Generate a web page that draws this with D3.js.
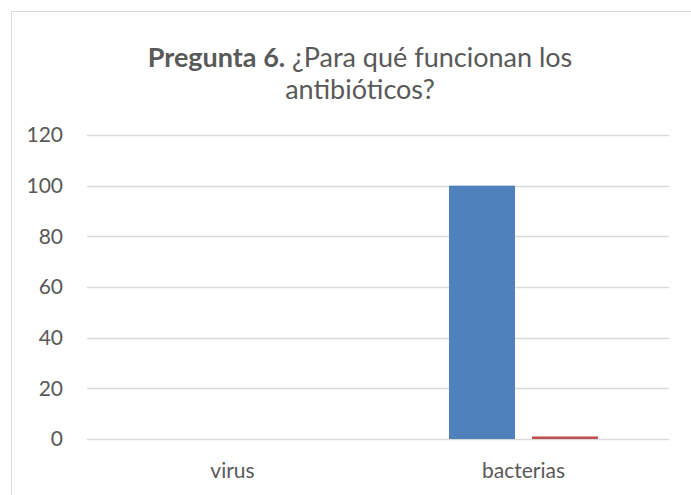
<!DOCTYPE html>
<meta charset="utf-8">
<style>
  html, body { margin: 0; padding: 0; background: #fff; }
  svg text { font-family: Lato, "Open Sans", sans-serif; fill: #595959; }
</style>
<body>
<script src="https://cdn.jsdelivr.net/npm/d3@7"></script>
<script>
  // chart data
  var categories = ["virus", "bacterias"];
  var serie1 = [0, 100];
  var serie2 = [0, 1];
  var yTicks = [0, 20, 40, 60, 80, 100, 120];

  var W = 691, H = 495;
  var margin = { top: 135, right: 22, bottom: 56, left: 87 };
  var width = W - margin.left - margin.right,
      height = H - margin.top - margin.bottom;

  var svg = d3.select("body").append("svg")
    .attr("width", W)
    .attr("height", H);

  // chart border (runs off the right / bottom edge)
  svg.append("rect")
    .attr("x", 11.5).attr("y", 11.5)
    .attr("width", W).attr("height", H)
    .attr("fill", "none")
    .attr("stroke", "#d9d9d9");

  // title
  var title = svg.append("text")
    .attr("text-anchor", "middle")
    .style("font-size", "27px");
  var t1 = title.append("tspan").attr("x", 360).attr("y", 67);
  t1.append("tspan").style("font-weight", "bold").text("Pregunta 6.");
  t1.append("tspan").text(" ¿Para qué funcionan los");
  title.append("tspan").attr("x", 360).attr("y", 99).text("antibióticos?");

  var g = svg.append("g")
    .attr("transform", "translate(" + margin.left + "," + margin.top + ")");

  var x = d3.scaleBand().domain(categories).range([0, width]);
  var y = d3.scaleLinear().domain([0, 120]).range([height, 0]);

  // gridlines
  g.selectAll(".grid")
    .data(yTicks)
    .enter().append("line")
    .attr("x1", 0).attr("x2", width)
    .attr("y1", function (d) { return Math.round(y(d)) + 0.5; })
    .attr("y2", function (d) { return Math.round(y(d)) + 0.5; })
    .attr("stroke", "#d9d9d9")
    .attr("stroke-width", 1.3);

  // y axis labels
  var yAxis = g.append("g")
    .call(d3.axisLeft(y).tickValues(yTicks).tickSize(0).tickPadding(24));
  yAxis.select(".domain").remove();
  yAxis.selectAll("text").style("font-size", "21px").attr("fill", "#595959");

  // x axis labels
  var xAxis = g.append("g")
    .attr("transform", "translate(0," + height + ")")
    .call(d3.axisBottom(x).tickSize(0).tickPadding(24));
  xAxis.select(".domain").remove();
  xAxis.selectAll("text").style("font-size", "21px").attr("fill", "#595959");

  // bars
  var xs = d3.scaleBand().domain([0, 1]).range([0, x.bandwidth()])
    .paddingInner(0.205).paddingOuter(0.855);
  var series = [serie1, serie2];
  var colors = ["#4f81bd", "#c0504d"];

  series.forEach(function (vals, si) {
    g.selectAll(".bar" + si)
      .data(categories)
      .enter().append("rect")
      .attr("class", "bar" + si)
      .attr("x", function (d) { return x(d) + xs(si); })
      .attr("width", xs.bandwidth())
      .attr("y", function (d, i) { return y(vals[i]); })
      .attr("height", function (d, i) { return height - y(vals[i]); })
      .attr("fill", colors[si]);
  });
</script>
</body>
